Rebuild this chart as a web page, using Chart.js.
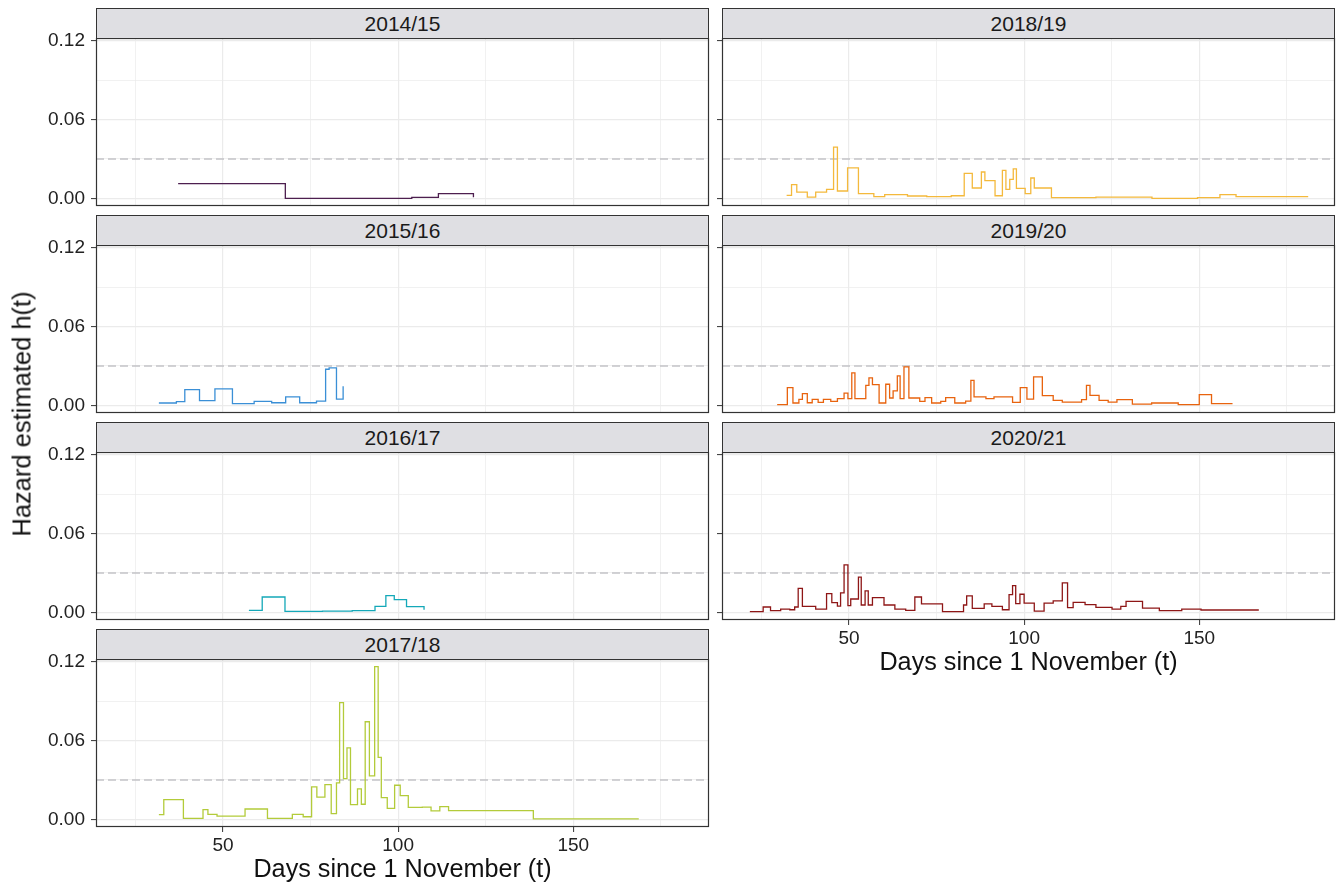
<!DOCTYPE html>
<html>
<head>
<meta charset="utf-8">
<script src="https://cdn.jsdelivr.net/npm/chart.js@4.4.0/dist/chart.umd.min.js"></script>
<style>
  body { margin: 0; background: #fff; width: 1337px; height: 884px; position: relative; overflow: hidden;
         font-family: "Liberation Sans", Arial, sans-serif; }
  canvas { position: absolute; }
  .strip { position: absolute; box-sizing: border-box; background: #dfdfe3; border: 1px solid #333;
           text-align: center; color: #1a1a1a; font-size: 21px; line-height: 29px; }
  #ytitle { position: absolute; left: 22px; top: 414px; transform: translate(-50%, -50%) rotate(-90deg);
            white-space: nowrap; font-size: 25.5px; color: #111; }
</style>
</head>
<body>
<div id="ytitle">Hazard estimated h(t)</div>
<script>
// facet labels
const seasons = ['2014/15', '2015/16', '2016/17', '2017/18', '2018/19', '2019/20', '2020/21'];

// step points: day since 1 Nov, estimated hazard (value holds until the next day)
const days1415 = [37.2, 67.8, 103.9, 111.5, 121.5];
const hazard1415 = [0.0112, 0.0, 0.0008, 0.0036, 0.0008];

const days1516 = [31.7, 36.7, 39.1, 43.3, 47.7, 52.7, 58.9, 63.9, 67.9, 71.9, 76.7, 79.3, 80.3, 82.4, 84.3];
const hazard1516 = [0.0018, 0.0028, 0.012, 0.0036, 0.0125, 0.0013, 0.003, 0.002, 0.0064, 0.002, 0.0033, 0.0275, 0.0285, 0.0048, 0.0145];

const days1617 = [57.4, 61.2, 67.7, 78.4, 86.9, 93.4, 96.5, 98.9, 102.4, 107.4];
const hazard1617 = [0.0015, 0.0117, 0.0008, 0.001, 0.0013, 0.0046, 0.0128, 0.0097, 0.0044, 0.002];

const days1718 = [31.7, 33.1, 38.7, 44.3, 45.7, 48.3, 56.3, 62.7, 69.8, 72.9, 75.3, 76.8, 79.1, 80.9, 82.4, 83.3, 84.4, 85.4,
                  86.4, 88.4, 89.5, 90.6, 91.8, 93.3, 94.3, 95.2, 96.9, 99.0, 100.6, 102.9, 106.9, 109.4, 111.9, 114.4, 138.6, 168.7];
const hazard1718 = [0.0036, 0.015, 0.0008, 0.0074, 0.0038, 0.0025, 0.0079, 0.0008, 0.0038, 0.002, 0.0247, 0.017, 0.0265, 0.0043,
                    0.0278, 0.0889, 0.0311, 0.0545, 0.0112, 0.0232, 0.0115, 0.0744, 0.0331, 0.1164, 0.0472, 0.0166, 0.0084, 0.026,
                    0.0181, 0.0092, 0.0094, 0.0064, 0.0097, 0.0066, 0.0003, 0.0003];

const days1819 = [32.2, 33.6, 35.1, 38.1, 40.5, 43.6, 45.6, 46.7, 49.6, 52.7, 57.1, 60.2, 66.7, 72.2, 79.2, 82.9, 85.2, 87.8,
                  88.8, 91.7, 93.8, 94.8, 95.9, 96.9, 97.8, 100.3, 101.9, 102.9, 107.8, 120.5, 136.5, 149.5, 155.9, 160.5, 181.1];
const hazard1819 = [0.0023, 0.0105, 0.0048, 0.001, 0.0048, 0.0069, 0.039, 0.0056, 0.0232, 0.0036, 0.0013, 0.0028, 0.0018, 0.0013,
                    0.002, 0.0191, 0.0079, 0.0201, 0.0135, 0.002, 0.0214, 0.0069, 0.0145, 0.0224, 0.0076, 0.0036, 0.0155, 0.0079,
                    0.0005, 0.001, 0.0, 0.0005, 0.0028, 0.0013, 0.0013];

const days1920 = [29.5, 32.4, 34.0, 35.7, 36.7, 38.1, 39.5, 41.2, 42.7, 44.8, 46.7, 48.6, 49.7, 50.8, 51.7, 54.8, 55.7, 56.7,
                  58.6, 60.5, 61.6, 62.6, 63.8, 64.6, 65.7, 67.1, 70.2, 71.7, 73.6, 76.2, 77.6, 80.2, 83.3, 84.8, 85.7, 89.1,
                  91.4, 96.7, 98.9, 100.8, 102.7, 105.2, 108.3, 110.9, 116.4, 117.8, 118.8, 121.4, 124.0, 126.5, 130.9, 136.4,
                  144.0, 150.0, 153.5, 159.5];
const hazard1920 = [0.0005, 0.0135, 0.0018, 0.0046, 0.0089, 0.002, 0.0046, 0.0023, 0.0046, 0.003, 0.0051, 0.0094, 0.0051, 0.0247,
                    0.0051, 0.0153, 0.0209, 0.0158, 0.0018, 0.0161, 0.0056, 0.011, 0.0224, 0.0051, 0.0293, 0.0056, 0.003, 0.0059,
                    0.0018, 0.003, 0.0059, 0.0018, 0.0033, 0.0191, 0.0064, 0.0051, 0.0064, 0.0023, 0.0135, 0.0048, 0.0217, 0.0074,
                    0.0038, 0.0025, 0.0043, 0.0153, 0.0076, 0.0038, 0.0025, 0.0043, 0.001, 0.0018, 0.0005, 0.0082, 0.0013, 0.0013];

const days2021 = [21.7, 25.5, 27.6, 30.5, 33.1, 34.5, 35.5, 36.7, 40.5, 43.6, 45.1, 46.7, 47.6, 48.6, 49.7, 50.5, 52.7, 53.5,
                  54.6, 55.5, 56.7, 60.0, 63.1, 66.2, 68.8, 70.7, 76.7, 82.7, 83.6, 85.2, 88.6, 90.8, 93.8, 95.7, 96.7, 97.6,
                  98.8, 100.0, 102.9, 105.7, 108.3, 110.9, 112.4, 114.0, 117.4, 120.5, 125.1, 127.6, 129.1, 133.8, 138.6, 145.0,
                  150.5, 167.0];
const hazard2021 = [0.0005, 0.0041, 0.0013, 0.0025, 0.002, 0.0041, 0.0183, 0.0046, 0.0025, 0.0143, 0.0074, 0.0048, 0.0148, 0.0362,
                    0.0051, 0.0102, 0.0268, 0.0056, 0.0163, 0.0056, 0.0112, 0.0056, 0.0025, 0.0015, 0.0117, 0.0064, 0.0005, 0.0056,
                    0.0125, 0.003, 0.0064, 0.0046, 0.002, 0.0135, 0.0204, 0.0066, 0.0138, 0.0071, 0.001, 0.0071, 0.0087, 0.0224,
                    0.0036, 0.0076, 0.0059, 0.0038, 0.0025, 0.0046, 0.0084, 0.0033, 0.0013, 0.0025, 0.0018, 0.0018];

const threshold = 0.03;
const xRange = [13.75, 188.75];
const yRange = [-0.00582, 0.1222];
const xGrid = [25, 50, 75, 100, 125, 150, 175];
const yGrid = [0, 0.03, 0.06, 0.09, 0.12];
const xBreaks = [50, 100, 150];
const yBreaks = [0, 0.06, 0.12];

const seriesDays = [days1415, days1516, days1617, days1718, days1819, days1920, days2021];
const seriesHazard = [hazard1415, hazard1516, hazard1617, hazard1718, hazard1819, hazard1920, hazard2021];
const lineColors = ['#4d1f4f', '#3a8fd6', '#14a8b8', '#b3cb3a', '#f4b93c', '#e8630e', '#8e1616'];

// layout (px)
const PANEL_W = 613, PANEL_H = 168, ROW_PITCH = 207, FIRST_TOP = 38, STRIP_H = 31, PAD = 30;
const cols = [{ left: 0, width: 712, yw: 96 }, { left: 712, width: 625, yw: 10 }];
const places = [[0, 0], [0, 1], [0, 2], [0, 3], [1, 0], [1, 1], [1, 2]];
const bottomPanels = [3, 6];
const FONT = '"Liberation Sans", Arial, sans-serif';

const isMajor = (v, breaks) => breaks.some(b => Math.abs(b - v) < 1e-6);

const framePlugin = {
  id: 'frame',
  afterDraw(chart) {
    const a = chart.chartArea, ctx = chart.ctx;
    ctx.save();
    ctx.strokeStyle = '#333';
    ctx.lineWidth = 1.2;
    ctx.strokeRect(a.left + 0.5, a.top + 0.5, a.right - a.left - 1, a.bottom - a.top - 1);
    ctx.restore();
  }
};

seasons.forEach((season, i) => {
  const [c, row] = places[i];
  const col = cols[c];
  const bottom = bottomPanels.includes(i);
  const areaTop = FIRST_TOP + ROW_PITCH * row;
  const xh = bottom ? 58 : 0;
  const padBottom = bottom ? 2 : PAD;

  const strip = document.createElement('div');
  strip.className = 'strip';
  strip.textContent = season;
  strip.style.left = (col.left + col.yw) + 'px';
  strip.style.top = (areaTop - STRIP_H + 1) + 'px';
  strip.style.width = PANEL_W + 'px';
  strip.style.height = STRIP_H + 'px';
  document.body.appendChild(strip);

  const canvas = document.createElement('canvas');
  canvas.width = col.width;
  canvas.height = PAD + PANEL_H + xh + padBottom;
  canvas.style.left = col.left + 'px';
  canvas.style.top = (areaTop - PAD) + 'px';
  document.body.insertBefore(canvas, document.body.firstChild);

  const pts = seriesDays[i].map((d, k) => ({ x: d, y: seriesHazard[i][k] }));

  new Chart(canvas, {
    type: 'line',
    data: {
      datasets: [
        { data: pts, stepped: 'before', borderColor: lineColors[i], borderWidth: 1.3, pointRadius: 0, fill: false },
        { data: [{ x: xRange[0], y: threshold }, { x: xRange[1], y: threshold }],
          borderColor: '#c4c4c8', borderWidth: 1.5, borderDash: [8, 4], pointRadius: 0, fill: false }
      ]
    },
    options: {
      responsive: false,
      animation: false,
      events: [],
      plugins: { legend: { display: false }, tooltip: { enabled: false } },
      layout: { padding: { top: PAD, bottom: padBottom, left: 0, right: col.width - col.yw - PANEL_W } },
      scales: {
        x: {
          type: 'linear', min: xRange[0], max: xRange[1],
          border: { display: false },
          grid: {
            color: '#ebebeb',
            lineWidth: ctx => isMajor(ctx.tick.value, xBreaks) ? 1.2 : 0.7,
            drawTicks: bottom, tickLength: 5, tickWidth: 1,
            tickColor: ctx => isMajor(ctx.tick.value, xBreaks) ? '#333' : 'rgba(0,0,0,0)'
          },
          ticks: {
            display: bottom, autoSkip: false, maxRotation: 0, padding: 2,
            color: '#222', font: { family: FONT, size: 19 },
            callback: v => isMajor(v, xBreaks) ? String(v) : ''
          },
          title: { display: bottom, text: 'Days since 1 November (t)', color: '#111', padding: 0,
                   font: { family: FONT, size: 25.2 } },
          afterBuildTicks: s => { s.ticks = xGrid.map(v => ({ value: v })); },
          afterFit: s => { s.height = xh; }
        },
        y: {
          type: 'linear', min: yRange[0], max: yRange[1],
          border: { display: false },
          grid: {
            color: '#ebebeb',
            lineWidth: ctx => isMajor(ctx.tick.value, yBreaks) ? 1.2 : 0.7,
            drawTicks: true, tickLength: 5, tickWidth: 1,
            tickColor: ctx => isMajor(ctx.tick.value, yBreaks) ? '#333' : 'rgba(0,0,0,0)'
          },
          ticks: {
            display: c === 0, autoSkip: false, padding: 6,
            color: '#222', font: { family: FONT, size: 19 },
            callback: v => isMajor(v, yBreaks) ? v.toFixed(2) : ''
          },
          afterBuildTicks: s => { s.ticks = yGrid.map(v => ({ value: v })); },
          afterFit: s => { s.width = col.yw; }
        }
      }
    },
    plugins: [framePlugin]
  });
});
</script>
</body>
</html>
